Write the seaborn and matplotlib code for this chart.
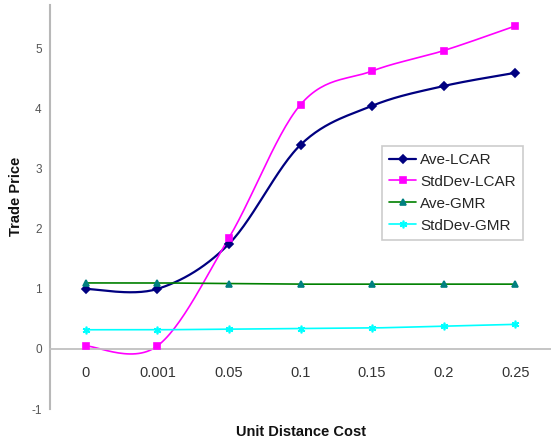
import numpy as np
import matplotlib.pyplot as plt
import seaborn as sns
from matplotlib.lines import Line2D

sns.set_style("white")
plt.rcParams["font.family"] = ["Liberation Sans", "DejaVu Sans"]
plt.rcParams["axes.unicode_minus"] = False

# ---------------------------
# data
# ---------------------------
cost_labels = ["0", "0.001", "0.05", "0.1", "0.15", "0.2", "0.25"]
ave_lcar = [1.0, 1.0, 1.75, 3.4, 4.05, 4.38, 4.6]
std_lcar = [0.05, 0.05, 1.85, 4.07, 4.63, 4.97, 5.38]
ave_gmr = [1.1, 1.1, 1.09, 1.08, 1.08, 1.08, 1.08]
std_gmr = [0.32, 0.32, 0.33, 0.34, 0.35, 0.38, 0.41]

series = [
    ("Ave-LCAR", ave_lcar, "#000080", "#000080", "D", 3.8, 1.6),
    ("StdDev-LCAR", std_lcar, "#FF00FF", "#FF00FF", "s", 4.5, 1.2),
    ("Ave-GMR", ave_gmr, "#008000", "#008080", "^", 4.8, 1.2),
    ("StdDev-GMR", std_gmr, "#00FFFF", "#00FFFF", (6, 2, 0), 5.5, 1.2),
]


def smooth(xs, ys, n=30):
    # excel style smoothed line (catmull-rom as bezier segments)
    pts = np.column_stack([xs, ys]).astype(float)
    p = np.vstack([pts[0], pts, pts[-1]])
    t = np.linspace(0, 1, n)[:, None]
    out = []
    for i in range(1, len(p) - 2):
        p0, p1, p2, p3 = p[i - 1], p[i], p[i + 1], p[i + 2]
        c1 = p1 + (p2 - p0) / 6
        c2 = p2 - (p3 - p1) / 6
        seg = (1 - t) ** 3 * p1 + 3 * (1 - t) ** 2 * t * c1 + 3 * (1 - t) * t ** 2 * c2 + t ** 3 * p2
        out.append(seg if i == 1 else seg[1:])
    return np.vstack(out)


fig = plt.figure(figsize=(5.51, 4.44), dpi=100)
ax = fig.add_axes([50 / 551, 35 / 444, 501 / 551, 404 / 444])

x = np.arange(len(cost_labels))
handles = []
for name, vals, lc, mc, mk, ms, lw in series:
    curve = smooth(x, vals)
    sns.lineplot(x=curve[:, 0], y=curve[:, 1], sort=False, color=lc, linewidth=lw, ax=ax)
    ax.plot(x, vals, linestyle="none", marker=mk, markersize=ms, color=mc,
            markeredgecolor=mc, markeredgewidth=1.2, zorder=3)
    handles.append(Line2D([0], [0], color=lc, linewidth=lw, marker=mk, markersize=ms,
                          markerfacecolor=mc, markeredgecolor=mc, markeredgewidth=1.2))

ax.set_xlim(-0.5, 6.5)
ax.set_ylim(-1, 5.73)

# axes styling
for s in ["top", "right"]:
    ax.spines[s].set_visible(False)
ax.spines["left"].set_color("#b8b8b8")
ax.spines["left"].set_linewidth(1.5)
ax.spines["bottom"].set_position(("data", 0))
ax.spines["bottom"].set_color("#c0c0c0")
ax.spines["bottom"].set_linewidth(1.3)

ax.set_xticks(x)
ax.set_xticklabels(cost_labels)
ax.set_xticks(np.arange(0.5, 6.5, 1), minor=True)
ax.tick_params(axis="x", which="major", length=0, pad=12, labelsize=10.5, labelcolor="#333333")
ax.tick_params(axis="x", which="minor", length=4, width=1, color="#b0b0b0", direction="out")

ax.set_yticks(range(-1, 6))
ax.tick_params(axis="y", length=3, width=1, color="#b0b0b0", direction="out",
               pad=3, labelsize=8.5, labelcolor="#555555")

fig.text(301 / 551, 1 - 432 / 444, "Unit Distance Cost", ha="center", va="center",
         fontsize=10.5, fontweight="bold", color="#111111")
fig.text(16 / 551, 1 - 196 / 444, "Trade Price", ha="center", va="center",
         rotation=90, fontsize=10.5, fontweight="bold", color="#111111")

leg = ax.legend(handles, [s[0] for s in series], loc="upper left",
                bbox_to_anchor=(382 / 551, 1 - 146 / 444), bbox_transform=fig.transFigure,
                fontsize=11, frameon=True, fancybox=False, handlelength=1.8,
                handletextpad=0.25, labelspacing=0.52, borderpad=0.45, borderaxespad=0)
leg.get_frame().set_edgecolor("#c0c0c0")
leg.get_frame().set_linewidth(1.2)

fig.savefig("out.png", dpi=100)
